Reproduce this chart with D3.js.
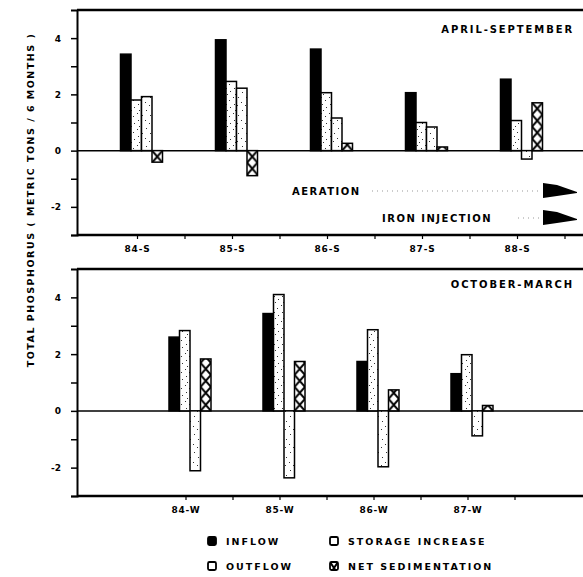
<!DOCTYPE html>
<html>
<head>
<meta charset="utf-8">
<script src="https://cdn.jsdelivr.net/npm/d3@7"></script>
<style>
  body { margin: 0; background: #fff; }
  text { font-family: "DejaVu Sans", sans-serif; font-weight: bold; fill: #000; }
</style>
</head>
<body>
<div class="canva"></div>
<script>
// categories
const seasonsS = ["84-S", "85-S", "86-S", "87-S", "88-S"];
const seasonsW = ["84-W", "85-W", "86-W", "87-W"];
const series = ["INFLOW", "OUTFLOW", "STORAGE INCREASE", "NET SEDIMENTATION"];

// April-September values (metric tons / 6 months)
const inflowS = [3.43, 3.94, 3.61, 2.06, 2.54];
const outflowS = [1.80, 2.46, 2.06, 1.00, 1.07];
const storageS = [1.92, 2.22, 1.16, 0.84, -0.30];
const sedS = [-0.41, -0.89, 0.26, 0.13, 1.70];

// October-March values
const inflowW = [2.60, 3.43, 1.74, 1.31];
const outflowW = [2.83, 4.10, 2.86, 1.98];
const storageW = [-2.11, -2.36, -1.97, -0.88];
const sedW = [1.83, 1.74, 0.74, 0.19];

// tick labels
const yTicks = [-3, -2, -1, 0, 1, 2, 3, 4];
const yLabels = [4, 2, 0, -2];

const svg = d3.select(".canva").append("svg")
    .attr("width", 583)
    .attr("height", 577);

const defs = svg.append("defs");

// stipple fills
function stipple(id, dots, w, h) {
  const p = defs.append("pattern")
      .attr("id", id)
      .attr("patternUnits", "userSpaceOnUse")
      .attr("width", w).attr("height", h);
  p.append("rect").attr("width", w).attr("height", h).attr("fill", "#fff");
  p.selectAll("rect.dot").data(dots).enter().append("rect")
      .attr("class", "dot")
      .attr("x", d => d[0]).attr("y", d => d[1])
      .attr("width", 1).attr("height", 1)
      .attr("fill", "#333");
}
stipple("stOut", [[1, 1], [5, 4], [2, 8], [6, 11], [3, 14]], 8, 16);
stipple("stSto", [[2, 2], [6, 7], [1, 12], [5, 15]], 8, 18);

// crosshatch, one pattern per bar so it lines up with the bar edges
let hatchCount = 0;
function hatch(x, y, w) {
  const id = "xh" + (hatchCount++);
  const h = 12;
  const p = defs.append("pattern")
      .attr("id", id)
      .attr("patternUnits", "userSpaceOnUse")
      .attr("x", x).attr("y", y)
      .attr("width", w).attr("height", h);
  p.append("rect").attr("width", w).attr("height", h).attr("fill", "#fff");
  p.append("path")
      .attr("d", `M0,0L${w},${h}M${w},0L0,${h}`)
      .attr("stroke", "#000").attr("stroke-width", 2);
  return `url(#${id})`;
}

const fills = ["#000", "url(#stOut)", "url(#stSto)", null];

const xLeft = 77, xRight = 583;

function drawPanel(cats, values, yRange, xRange, title, titleY) {
  const y = d3.scaleLinear().domain([-3, 5]).range(yRange);
  const x = d3.scaleBand().domain(cats).range(xRange);
  const xInner = d3.scaleBand().domain(series).range([0, 42]);
  const g = svg.append("g");

  // zero line
  g.append("line")
      .attr("x1", xLeft).attr("x2", xRight)
      .attr("y1", y(0)).attr("y2", y(0))
      .attr("stroke", "#000").attr("stroke-width", 1.5);

  // bars
  const rows = [];
  cats.forEach((c, ci) => {
    series.forEach((s, si) => rows.push({cat: c, s: s, si: si, v: values[si][ci]}));
  });
  const barX = d => x(d.cat) + x.bandwidth() / 2 - 17 + xInner(d.s);
  g.selectAll("rect.bar").data(rows).enter().append("rect")
      .attr("class", "bar")
      .attr("x", barX)
      .attr("y", d => y(Math.max(0, d.v)))
      .attr("width", xInner.bandwidth())
      .attr("height", d => Math.abs(y(d.v) - y(0)))
      .attr("fill", d => fills[d.si] || hatch(barX(d), y(0), xInner.bandwidth()))
      .attr("stroke", "#000")
      .attr("stroke-width", 1.5);

  // frame
  g.append("line").attr("x1", xLeft).attr("x2", xRight)
      .attr("y1", y(5)).attr("y2", y(5))
      .attr("stroke", "#000").attr("stroke-width", 2.5);
  g.append("line").attr("x1", xLeft).attr("x2", xRight)
      .attr("y1", y(-3)).attr("y2", y(-3))
      .attr("stroke", "#000").attr("stroke-width", 2.5);

  // y axis
  const yAxis = d3.axisLeft(y)
      .tickValues(yTicks)
      .tickSize(6)
      .tickPadding(10)
      .tickFormat(d => yLabels.includes(d) ? String(d) : "");
  const ya = g.append("g")
      .attr("transform", `translate(${xLeft},0)`)
      .call(yAxis);
  ya.select(".domain").attr("stroke-width", 2);
  ya.selectAll(".tick line").attr("stroke-width", 1.5);
  ya.selectAll(".tick text")
      .style("font-family", "DejaVu Sans")
      .style("font-weight", "bold")
      .style("font-size", "9px");

  // x ticks at band edges and centres
  const half = [];
  cats.forEach(c => { half.push(x(c)); half.push(x(c) + x.bandwidth() / 2); });
  half.push(x.range()[1]);
  g.selectAll("line.xt").data(half.slice(1)).enter().append("line")
      .attr("class", "xt")
      .attr("x1", d => d).attr("x2", d => d)
      .attr("y1", y(-3)).attr("y2", y(-3) + 4)
      .attr("stroke", "#000").attr("stroke-width", 1.2);

  // category labels
  g.selectAll("text.cat").data(cats).enter().append("text")
      .attr("class", "cat")
      .attr("x", d => x(d) + x.bandwidth() / 2)
      .attr("y", y(-3) + 17)
      .attr("text-anchor", "middle")
      .style("font-size", "9px")
      .style("letter-spacing", "0.8px")
      .text(d => d);

  // season title
  g.append("text")
      .attr("x", 574)
      .attr("y", titleY)
      .attr("text-anchor", "end")
      .style("font-size", "10px")
      .style("letter-spacing", "1.9px")
      .text(title);

  return {x: x, y: y, g: g};
}

const panelS = drawPanel(seasonsS, [inflowS, outflowS, storageS, sedS],
    [235, 10], [90, 565], "APRIL-SEPTEMBER", 33);
const panelW = drawPanel(seasonsW, [inflowW, outflowW, storageW, sedW],
    [496, 269], [139, 515], "OCTOBER-MARCH", 288);

// treatment annotations
const pennant = "M0,-8L14,-6L34,1L34,2L14,5L0,7Z";
const notes = [
  {label: "AERATION", tx: 292, y: 191, dotFrom: 372},
  {label: "IRON INJECTION", tx: 382, y: 218, dotFrom: 518}
];
notes.forEach(n => {
  panelS.g.append("text")
      .attr("x", n.tx).attr("y", n.y + 4)
      .style("font-size", "10px")
      .style("letter-spacing", "1.5px")
      .text(n.label);
  panelS.g.append("line")
      .attr("x1", n.dotFrom).attr("x2", 541)
      .attr("y1", n.y).attr("y2", n.y)
      .attr("stroke", "#999").attr("stroke-width", 1)
      .attr("stroke-dasharray", "1,4");
  panelS.g.append("path")
      .attr("d", pennant)
      .attr("transform", `translate(543,${n.y})`)
      .attr("fill", "#000");
});

// y title
svg.append("text")
    .attr("transform", "translate(34,200) rotate(-90)")
    .attr("text-anchor", "middle")
    .style("font-size", "9.5px")
    .style("letter-spacing", "1.5px")
    .text("TOTAL PHOSPHORUS ( METRIC TONS / 6 MONTHS )");

// legend
const legendItems = [
  {s: series[0], x: 208, y: 545},
  {s: series[2], x: 330, y: 545},
  {s: series[1], x: 208, y: 570},
  {s: series[3], x: 330, y: 570}
];
const lg = svg.append("g");
legendItems.forEach(d => {
  const si = series.indexOf(d.s);
  lg.append("rect")
      .attr("x", d.x).attr("y", d.y - 8)
      .attr("width", 8).attr("height", 8)
      .attr("rx", 1.5)
      .attr("fill", si === 0 ? "#000" : si === 3 ? hatch(d.x, d.y - 8, 8) : "#fff")
      .attr("stroke", "#000").attr("stroke-width", 1.8);
  lg.append("text")
      .attr("x", d.x + 18).attr("y", d.y)
      .style("font-size", "9.5px")
      .style("letter-spacing", "2px")
      .text(d.s);
});
</script>
</body>
</html>
